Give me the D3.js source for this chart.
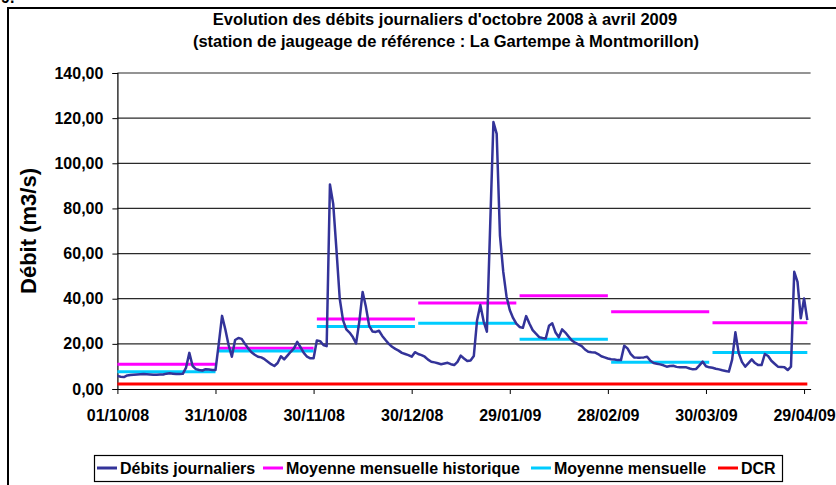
<!DOCTYPE html>
<html>
<head>
<meta charset="utf-8">
<script src="https://cdn.jsdelivr.net/npm/d3@7"></script>
<style>
  body { margin: 0; background: #fff; }
  svg { display: block; font-family: Arial, "Liberation Sans", sans-serif; font-weight: bold; }
</style>
</head>
<body>
<svg id="chart" width="836" height="485"></svg>
<script>
// debits journaliers (m3/s), du 01/10/08 au 30/04/09
var startDay = "2008-10-01";
var debitsOct = [5.8, 5.4, 5.3, 6.0, 6.2, 6.3, 6.4, 6.5, 6.6, 6.5, 6.4, 6.3, 6.3, 6.4, 6.4, 6.8, 7.0, 6.8, 6.6, 6.6, 6.7, 9.5, 16.0, 10.2, 8.8, 8.4, 8.2, 8.8, 8.6, 8.4, 8.4];
var debitsNov = [20.0, 32.4, 26.5, 19.5, 14.3, 21.7, 22.6, 22.2, 20.0, 18.0, 16.3, 15.2, 14.3, 14.0, 13.2, 12.1, 11.0, 10.2, 11.5, 14.5, 13.1, 14.8, 16.5, 18.0, 20.9, 18.5, 16.0, 14.3, 13.6, 13.6];
var debitsDec = [21.5, 21.2, 19.5, 19.0, 90.6, 82.0, 61.5, 40.0, 30.5, 26.4, 25.0, 23.0, 20.2, 30.0, 43.0, 36.4, 28.0, 25.5, 25.3, 25.8, 23.5, 21.7, 20.0, 18.7, 17.8, 17.0, 16.0, 15.5, 15.0, 14.3, 16.3];
var debitsJan = [15.5, 15.0, 14.3, 13.0, 12.1, 11.8, 11.4, 11.0, 11.3, 11.6, 11.0, 10.6, 12.0, 14.8, 13.5, 12.4, 12.6, 14.6, 30.5, 37.2, 30.0, 25.4, 72.0, 118.3, 113.0, 68.0, 52.0, 41.0, 35.0, 31.5, 29.0];
var debitsFeb = [27.5, 27.1, 32.3, 29.0, 26.1, 24.5, 23.0, 22.6, 22.4, 28.0, 29.1, 25.0, 22.9, 26.4, 25.0, 23.2, 21.5, 20.5, 19.8, 19.0, 17.5, 16.5, 16.3, 16.2, 15.5, 14.5, 14.0, 13.5];
var debitsMar = [13.2, 13.1, 12.8, 12.8, 19.2, 18.0, 15.5, 14.0, 13.9, 13.9, 14.0, 14.3, 12.5, 11.5, 11.2, 10.9, 10.5, 9.9, 10.2, 10.3, 9.8, 9.6, 9.6, 9.6, 9.1, 8.7, 8.9, 10.5, 12.1, 10.1, 9.6];
var debitsApr = [9.4, 9.0, 8.7, 8.3, 8.0, 7.7, 13.0, 25.1, 16.0, 12.0, 9.9, 11.5, 13.1, 11.5, 10.6, 10.6, 15.5, 14.6, 12.5, 11.2, 9.9, 9.8, 9.6, 8.4, 9.9, 51.9, 47.5, 31.3, 40.1, 30.5];

// moyennes mensuelles (oct -> avr)
var moyHistorique = [11.0, 18.0, 31.0, 38.1, 41.3, 34.2, 29.3];
var moyMensuelle = [7.6, 16.8, 27.7, 29.1, 22.0, 11.9, 16.2];
var dcr = 2.2;

var xTicks = ["2008-10-01", "2008-10-31", "2008-11-30", "2008-12-30", "2009-01-29", "2009-02-28", "2009-03-30", "2009-04-29"];
var yTicks = [0, 20, 40, 60, 80, 100, 120, 140];
var legendLabels = ["Débits journaliers", "Moyenne mensuelle historique", "Moyenne mensuelle", "DCR"];
var colors = ["#333399", "#ff00ff", "#00ccff", "#ff0000"];

var parse = d3.utcParse("%Y-%m-%d");
var fmtDate = d3.utcFormat("%d/%m/%y");
var fr = d3.formatLocale({ decimal: ",", thousands: " ", grouping: [3], currency: ["", " €"] });
var fmtY = fr.format(".2f");

var debits = [].concat(debitsOct, debitsNov, debitsDec, debitsJan, debitsFeb, debitsMar, debitsApr);
var t0 = parse(startDay);
var daily = debits.map(function (v, i) { return { date: d3.utcDay.offset(t0, i), value: v }; });
var tEnd = d3.utcDay.offset(t0, debits.length);

var svg = d3.select("#chart");
var m = { left: 117.4, right: 810.6, top: 73, bottom: 389 };

var x = d3.scaleUtc().domain([t0, tEnd]).range([m.left, m.right]);
var y = d3.scaleLinear().domain([0, 140]).range([m.bottom, m.top]);

// cadre du graphique
svg.append("rect")
  .attr("x", 8).attr("y", 8).attr("width", 840).attr("height", 490)
  .attr("fill", "none").attr("stroke", "#000").attr("stroke-width", 2);
// reste de la legende de la figure au-dessus (coupee dans l'original)
svg.append("text").attr("x", 1).attr("y", 3).style("font-size", "16px").text("9.");

// titre
var title = svg.append("text").attr("text-anchor", "middle").style("font-size", "16.5px");
title.append("tspan").attr("x", 445).attr("y", 25).text("Evolution des débits journaliers d'octobre 2008 à avril 2009");
title.append("tspan").attr("x", 446).attr("y", 47).text("(station de jaugeage de référence : La Gartempe à Montmorillon)");

// grille
svg.append("g").selectAll("line")
  .data(yTicks.slice(1))
  .enter().append("line")
  .attr("x1", m.left).attr("x2", m.right)
  .attr("y1", function (d) { return y(d); }).attr("y2", function (d) { return y(d); })
  .attr("stroke", "#2a2a2a").attr("stroke-width", 1.2);

// axe y
var yAxis = svg.append("g").attr("transform", "translate(" + m.left + ",0)")
  .call(d3.axisLeft(y).tickValues(yTicks).tickFormat(fmtY).tickSize(5).tickPadding(9));
yAxis.select(".domain").attr("stroke", "#000").attr("stroke-width", 1.2);
yAxis.selectAll("line").attr("stroke", "#000");
yAxis.selectAll("text").style("font-size", "16px").style("font-family", "Arial, 'Liberation Sans', sans-serif").attr("fill", "#000");

// axe x
var xAxis = svg.append("g").attr("transform", "translate(0," + m.bottom + ")")
  .call(d3.axisBottom(x).tickValues(xTicks.map(parse)).tickFormat(fmtDate).tickSize(5).tickSizeOuter(0).tickPadding(16));
xAxis.select(".domain").attr("stroke", "#000").attr("stroke-width", 1.2);
xAxis.selectAll("line").attr("stroke", "#000");
xAxis.selectAll("text").style("font-size", "16px").style("font-family", "Arial, 'Liberation Sans', sans-serif").attr("fill", "#000");

svg.append("text")
  .attr("transform", "translate(36,231) rotate(-90)")
  .attr("text-anchor", "middle").style("font-size", "22px")
  .text("Débit (m3/s)");

// DCR
svg.append("line")
  .attr("x1", x(t0)).attr("x2", x(daily[daily.length - 1].date))
  .attr("y1", y(dcr)).attr("y2", y(dcr))
  .attr("stroke", colors[3]).attr("stroke-width", 3);

// moyennes par mois
function monthSegments(vals) {
  return vals.map(function (v, i) {
    var a = d3.utcMonth.offset(t0, i);
    var b = d3.utcDay.offset(d3.utcMonth.offset(t0, i + 1), -1);
    return { a: a, b: b, value: v };
  });
}
[[moyHistorique, colors[1]], [moyMensuelle, colors[2]]].forEach(function (s) {
  svg.append("g").selectAll("line")
    .data(monthSegments(s[0]))
    .enter().append("line")
    .attr("x1", function (d) { return x(d.a); }).attr("x2", function (d) { return x(d.b); })
    .attr("y1", function (d) { return y(d.value); }).attr("y2", function (d) { return y(d.value); })
    .attr("stroke", s[1]).attr("stroke-width", 3);
});

// debits journaliers
var line = d3.line()
  .x(function (d) { return x(d.date); })
  .y(function (d) { return y(d.value); });
svg.append("path")
  .datum(daily)
  .attr("d", line)
  .attr("fill", "none").attr("stroke", colors[0]).attr("stroke-width", 2.5)
  .attr("stroke-linejoin", "round");

// legende
svg.append("rect")
  .attr("x", 94.5).attr("y", 455.5).attr("width", 688).attr("height", 26)
  .attr("fill", "#fff").attr("stroke", "#000").attr("stroke-width", 1.2);
var legX = [97, 263, 531, 718];
var leg = svg.append("g").selectAll("g")
  .data(legendLabels)
  .enter().append("g")
  .attr("transform", function (d, i) { return "translate(" + legX[i] + ",468)"; });
leg.append("line").attr("x1", 0).attr("x2", 20)
  .attr("stroke", function (d, i) { return colors[i]; }).attr("stroke-width", 3);
leg.append("text").attr("x", 23).attr("y", 6).style("font-size", "16px").text(function (d) { return d; });
</script>
</body>
</html>
